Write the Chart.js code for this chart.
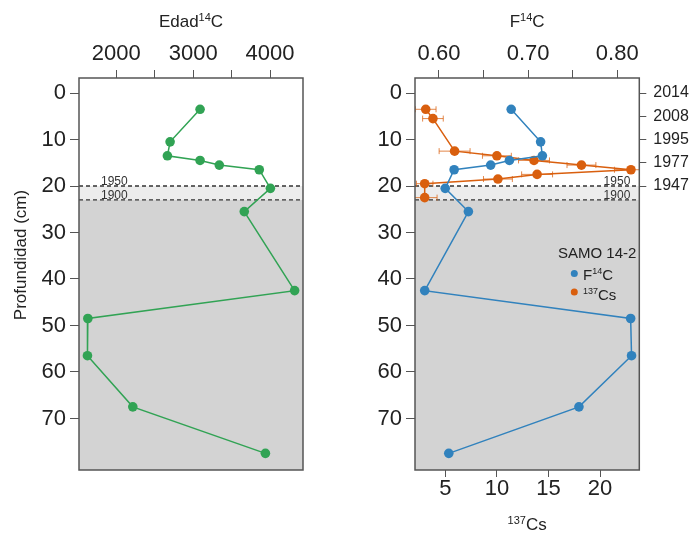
<!DOCTYPE html>
<html lang="es">
<head>
<meta charset="UTF-8">
<title>SAMO 14-2</title>
<script src="https://cdn.jsdelivr.net/npm/chart.js"></script>
<style>
    body { margin: 0; background: #fff; }
    #wrap { position: relative; width: 693px; height: 533px; }
    canvas { position: absolute; top: 0; }
    #left { left: 0; }
    #right { left: 340px; }
</style>
</head>
<body>
<div id="wrap">
    <canvas id="left" width="340" height="533"></canvas>
    <canvas id="right" width="353" height="533"></canvas>
</div>
<script>
// muestras de 14C (profundidad en cm)
const depthC14 = [3.5, 10.5, 13.5, 14.5, 15.5, 16.5, 20.5, 25.5, 42.5, 48.5, 56.5, 67.5, 77.5];
const edadC14 = [3090, 2700, 2665, 3090, 3340, 3860, 4005, 3665, 4320, 1630, 1625, 2215, 3940];
const f14c = [0.681, 0.714, 0.716, 0.679, 0.658, 0.617, 0.607, 0.633, 0.584, 0.815, 0.816, 0.757, 0.611];

// muestras de 137Cs
const depthCs = [3.5, 5.5, 12.5, 13.5, 14.5, 15.5, 16.5, 17.5, 18.5, 19.5, 22.5];
const cs137 = [3.1, 3.8, 5.9, 10.0, 13.6, 18.2, 23.0, 13.9, 10.1, 3.0, 3.0];
const cs137Err = [1.0, 1.0, 1.5, 1.4, 1.5, 1.4, 1.6, 1.5, 1.4, 0.8, 1.2];

// ejes
const depthTicks = [0, 10, 20, 30, 40, 50, 60, 70];
const edadTicks = [2000, 2500, 3000, 3500, 4000];
const f14cTicks = [0.60, 0.65, 0.70, 0.75, 0.80];
const csTicks = [5, 10, 15, 20];
const yearDepths = [0, 5, 10, 15, 20];
const yearLabels = ['2014', '2008', '1995', '1977', '1947'];
const horizonDepths = [20, 23];
const horizonLabels = ['1950', '1900'];

const FONT = '"Liberation Sans", Arial, Helvetica, sans-serif';
const GREEN = '#31a354';
const BLUE = '#3182bd';
const ORANGE = '#d95f0e';
const TXT = '#222';
const Y_MIN = -3.23, Y_MAX = 81.08;

Chart.defaults.font.family = FONT;
Chart.defaults.animation = false;

function drawRich(ctx, parts, x, y, size, align) {
    const sup = Math.round(size * 0.62);
    const fontOf = p => (p[1] ? sup : size) + 'px ' + FONT;
    let w = 0;
    parts.forEach(p => { ctx.font = fontOf(p); w += ctx.measureText(p[0]).width; });
    let cx = align === 'center' ? x - w / 2 : x;
    ctx.textAlign = 'left';
    ctx.textBaseline = 'alphabetic';
    parts.forEach(p => {
        ctx.font = fontOf(p);
        ctx.fillText(p[0], cx, p[1] ? y - size * 0.38 : y);
        cx += ctx.measureText(p[0]).width;
    });
}

// fondo gris, horizontes 1950/1900 y marco
const panel = {
    id: 'panel',
    beforeDraw(chart, args, opts) {
        const { ctx, chartArea: a } = chart;
        const ys = chart.scales.y;
        const y1 = ys.getPixelForValue(horizonDepths[0]);
        const y2 = ys.getPixelForValue(horizonDepths[1]);
        ctx.save();
        ctx.fillStyle = '#ffffff';
        ctx.fillRect(a.left, a.top, a.width, y1 - a.top);
        ctx.fillStyle = '#ececec';
        ctx.fillRect(a.left, y1, a.width, y2 - y1);
        ctx.fillStyle = '#d3d3d3';
        ctx.fillRect(a.left, y2, a.width, a.bottom - y2);
        ctx.strokeStyle = '#333';
        ctx.lineWidth = 1.3;
        ctx.setLineDash([4, 3]);
        [y1, y2].forEach(y => {
            ctx.beginPath();
            ctx.moveTo(a.left, y);
            ctx.lineTo(a.right, y);
            ctx.stroke();
        });
        ctx.setLineDash([]);
        ctx.fillStyle = '#333';
        ctx.font = '12px ' + FONT;
        ctx.textBaseline = 'alphabetic';
        ctx.textAlign = opts.align;
        const lx = opts.align === 'left' ? a.left + opts.dx : a.right - opts.dx;
        [y1, y2].forEach((y, i) => ctx.fillText(horizonLabels[i], lx, y - 1));
        ctx.restore();
    },
    afterDraw(chart, args, opts) {
        const { ctx, chartArea: a } = chart;
        ctx.save();
        ctx.strokeStyle = '#555';
        ctx.lineWidth = 1.5;
        ctx.strokeRect(a.left, a.top, a.width, a.height);
        ctx.fillStyle = TXT;
        (opts.texts || []).forEach(t => {
            const x = t.x === 'center' ? (a.left + a.right) / 2 : t.x;
            drawRich(ctx, t.parts, x, t.y, t.size, t.align);
        });
        if (opts.rotated) {
            const r = opts.rotated;
            ctx.translate(r.x, r.y);
            ctx.rotate(-Math.PI / 2);
            ctx.font = r.size + 'px ' + FONT;
            ctx.textAlign = 'center';
            ctx.textBaseline = 'middle';
            ctx.fillText(r.text, 0, 0);
        }
        ctx.restore();
    }
};

// barras de error horizontales del 137Cs
const errorBars = {
    id: 'errorBars',
    beforeDatasetsDraw(chart) {
        const { ctx, chartArea: a } = chart;
        const xs = chart.scales.xBot, ys = chart.scales.y;
        ctx.save();
        ctx.beginPath();
        ctx.rect(a.left, a.top, a.width, a.height);
        ctx.clip();
        ctx.strokeStyle = ORANGE;
        ctx.globalAlpha = 0.75;
        ctx.lineWidth = 1;
        cs137.forEach((v, i) => {
            const y = ys.getPixelForValue(depthCs[i]);
            const x0 = xs.getPixelForValue(v - cs137Err[i]);
            const x1 = xs.getPixelForValue(v + cs137Err[i]);
            ctx.beginPath();
            ctx.moveTo(x0, y); ctx.lineTo(x1, y);
            ctx.moveTo(x0, y - 3); ctx.lineTo(x0, y + 3);
            ctx.moveTo(x1, y - 3); ctx.lineTo(x1, y + 3);
            ctx.stroke();
        });
        ctx.restore();
    }
};

const tickFont = { family: FONT, size: 22, lineHeight: 1 };

function depthAxis(width) {
    return {
        type: 'linear', position: 'left', reverse: true, min: Y_MIN, max: Y_MAX,
        afterBuildTicks: s => { s.ticks = depthTicks.map(v => ({ value: v })); },
        afterFit: s => { s.width = width; },
        ticks: { font: tickFont, color: TXT, padding: 4, autoSkip: false },
        grid: { drawOnChartArea: false, tickLength: 9, tickColor: '#555' },
        border: { display: false }
    };
}

function series(xs, depths, color, axis) {
    return {
        data: depths.map((d, i) => ({ x: xs[i], y: d })),
        xAxisID: axis, yAxisID: 'y', showLine: true,
        borderColor: color, backgroundColor: color, borderWidth: 1.5,
        pointRadius: 4.8, pointBorderWidth: 0, pointHoverRadius: 4.8
    };
}

new Chart(document.getElementById('left'), {
    type: 'scatter',
    data: { datasets: [series(edadC14, depthC14, GREEN, 'x')] },
    options: {
        responsive: false, devicePixelRatio: 1,
        layout: { padding: { top: 0, left: 0, right: 37, bottom: 63 } },
        plugins: {
            legend: { display: false }, tooltip: { enabled: false },
            panel: {
                align: 'left', dx: 22,
                texts: [{ parts: [['Edad'], ['14', true], ['C']], x: 'center', y: 27, size: 17, align: 'center' }],
                rotated: { text: 'Profundidad (cm)', x: 21.5, y: 255, size: 17 }
            }
        },
        scales: {
            x: {
                type: 'linear', position: 'top', min: 1515, max: 4429,
                afterBuildTicks: s => { s.ticks = edadTicks.map(v => ({ value: v })); },
                afterFit: s => { s.height = 78; },
                ticks: { font: tickFont, color: TXT, padding: 5, autoSkip: false, maxRotation: 0,
                    callback: v => (v % 1000 === 0 ? String(v) : '') },
                grid: { drawOnChartArea: false, tickLength: 8, tickColor: '#555' },
                border: { display: false }
            },
            y: depthAxis(79)
        }
    },
    plugins: [panel]
});

new Chart(document.getElementById('right'), {
    type: 'scatter',
    data: {
        datasets: [
            series(f14c, depthC14, BLUE, 'xTop'),
            series(cs137, depthCs, ORANGE, 'xBot')
        ]
    },
    options: {
        responsive: false, devicePixelRatio: 1,
        layout: { padding: 0 },
        plugins: {
            legend: { display: false }, tooltip: { enabled: false },
            panel: {
                align: 'right', dx: 9,
                texts: [
                    { parts: [['F'], ['14', true], ['C']], x: 'center', y: 27, size: 17, align: 'center' },
                    { parts: [['137', true], ['Cs']], x: 'center', y: 530, size: 17, align: 'center' },
                    { parts: [['SAMO 14-2']], x: 218, y: 257.5, size: 15, align: 'left' },
                    { parts: [['F'], ['14', true], ['C']], x: 243, y: 280, size: 15, align: 'left' },
                    { parts: [['137', true], ['Cs']], x: 243, y: 300, size: 15, align: 'left' }
                ]
            }
        },
        scales: {
            xTop: {
                type: 'linear', position: 'top', min: 0.5731, max: 0.8247,
                afterBuildTicks: s => { s.ticks = f14cTicks.map(v => ({ value: v })); },
                afterFit: s => { s.height = 78; },
                ticks: { font: tickFont, color: TXT, padding: 5, autoSkip: false, maxRotation: 0,
                    callback: (v, i) => (i % 2 === 0 ? v.toFixed(2) : '') },
                grid: { drawOnChartArea: false, tickLength: 8, tickColor: '#555' },
                border: { display: false }
            },
            xBot: {
                type: 'linear', position: 'bottom', min: 2.06, max: 23.81,
                afterBuildTicks: s => { s.ticks = csTicks.map(v => ({ value: v })); },
                afterFit: s => { s.height = 63; },
                ticks: { font: tickFont, color: TXT, padding: 1, autoSkip: false, maxRotation: 0 },
                grid: { drawOnChartArea: false, tickLength: 7, tickColor: '#555' },
                border: { display: false }
            },
            y: depthAxis(75),
            yYears: {
                type: 'linear', position: 'right', reverse: true, min: Y_MIN, max: Y_MAX,
                afterBuildTicks: s => { s.ticks = yearDepths.map(v => ({ value: v })); },
                afterFit: s => { s.width = 53.7; },
                ticks: { font: { family: FONT, size: 16, lineHeight: 1 }, color: TXT, padding: 7, autoSkip: false,
                    callback: (v, i) => yearLabels[i] },
                grid: { drawOnChartArea: false, tickLength: 7, tickColor: '#555' },
                border: { display: false }
            }
        }
    },
    plugins: [panel, errorBars, {
        id: 'legendDots',
        afterDraw(chart) {
            const { ctx } = chart;
            [[BLUE, 273.5], [ORANGE, 292]].forEach(([c, y]) => {
                ctx.beginPath();
                ctx.fillStyle = c;
                ctx.arc(234.3, y, 3.5, 0, Math.PI * 2);
                ctx.fill();
            });
        }
    }]
});
</script>
</body>
</html>
